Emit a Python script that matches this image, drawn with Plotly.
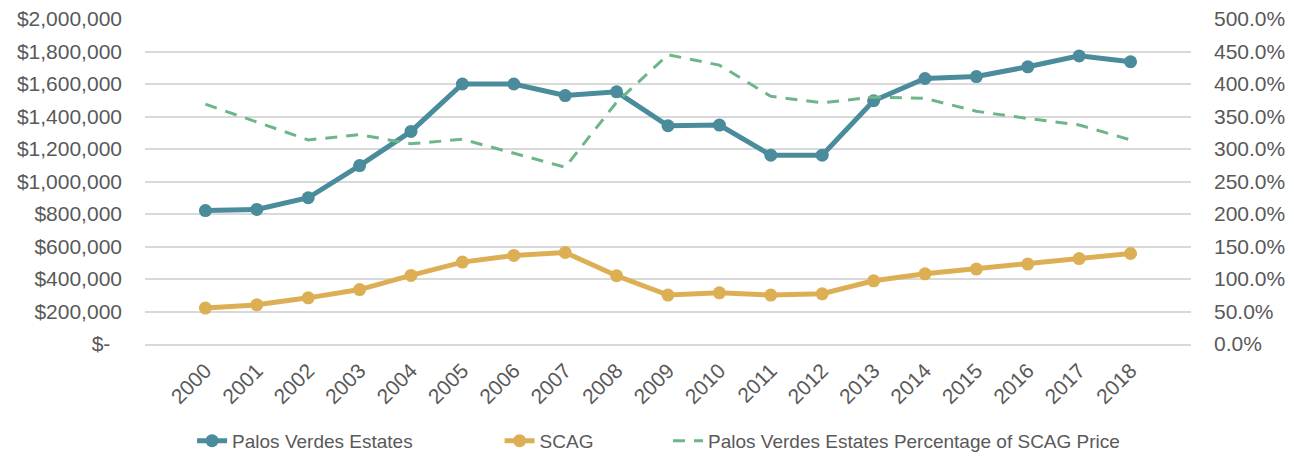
import plotly.graph_objects as go

years = [str(y) for y in range(2000, 2019)]

pve_price = [821000, 828000, 900000, 1098000, 1308000, 1600000, 1600000, 1529000, 1552000,
             1343000, 1347000, 1162000, 1162000, 1497000, 1634000, 1646000, 1706000, 1773000, 1737000]

scag_price = [221000, 241000, 284000, 335000, 422000, 504000, 545000, 563000, 420000,
              301000, 315000, 301000, 309000, 389000, 432000, 461000, 492000, 526000, 557000]

pve_pct_of_scag = [3.69, 3.42, 3.14, 3.22, 3.08, 3.15, 2.93, 2.72, 3.72,
                   4.45, 4.29, 3.81, 3.71, 3.80, 3.78, 3.58, 3.47, 3.37, 3.14]

left_ticks = [i * 200000 for i in range(11)]
left_labels = ["$-\u00a0\u00a0"] + [f"${v:,.0f}" for v in left_ticks[1:]]
right_ticks = [i * 0.5 for i in range(11)]
right_labels = [f"{v * 100:.1f}%" for v in right_ticks]

TEAL = "#4A8B9C"
GOLD = "#DDAF55"
GREEN = "#6DB68A"
GRID = "#D9D9D9"
TEXT = "#595959"
FONT = "Liberation Sans"

fig = go.Figure()

fig.add_trace(go.Scatter(
    x=years, y=pve_price, name="Palos Verdes Estates",
    mode="lines+markers",
    line=dict(color=TEAL, width=5),
    marker=dict(size=13, color=TEAL),
    legend="legend",
))

fig.add_trace(go.Scatter(
    x=years, y=scag_price, name="SCAG",
    mode="lines+markers",
    line=dict(color=GOLD, width=5),
    marker=dict(size=13, color=GOLD),
    legend="legend2",
))

fig.add_trace(go.Scatter(
    x=years, y=pve_pct_of_scag, name="Palos Verdes Estates Percentage of SCAG Price",
    mode="lines", yaxis="y2",
    line=dict(color=GREEN, width=3, dash="12px,9px"),
    legend="legend3",
))

legend_base = dict(
    orientation="h", yanchor="middle", y=-0.298, xanchor="left",
    font=dict(family=FONT, size=19, color=TEXT),
    bgcolor="rgba(0,0,0,0)",
)

# page body has an 8px margin, so the figure is a bit smaller than the window
fig.update_layout(
    width=1286, height=450,
    margin=dict(l=137, r=103, t=11, b=114, autoexpand=False),
    paper_bgcolor="white", plot_bgcolor="white",
    showlegend=True,
    font=dict(family=FONT, size=21, color=TEXT),
    xaxis=dict(
        type="category", tickangle=-45, showgrid=False,
        showline=True, linecolor=GRID, linewidth=2,
        ticks="", ticklabelstandoff=4, automargin=False,
        tickfont=dict(family=FONT, size=21, color=TEXT),
    ),
    yaxis=dict(
        range=[0, 2000000], tickvals=left_ticks, ticktext=left_labels,
        showgrid=True, gridcolor=GRID, gridwidth=2, zeroline=False,
        ticklabelstandoff=22, automargin=False, ticklabeloverflow="allow",
        tickfont=dict(family=FONT, size=21, color=TEXT),
    ),
    yaxis2=dict(
        range=[0, 5], tickvals=right_ticks, ticktext=right_labels,
        overlaying="y", side="right", showgrid=False, zeroline=False,
        ticklabelstandoff=22, automargin=False, ticklabeloverflow="allow",
        tickfont=dict(family=FONT, size=21, color=TEXT),
    ),
    legend=dict(legend_base, x=0.045),
    legend2=dict(legend_base, x=0.339),
    legend3=dict(legend_base, x=0.5),
)

fig.write_html("out.html")
